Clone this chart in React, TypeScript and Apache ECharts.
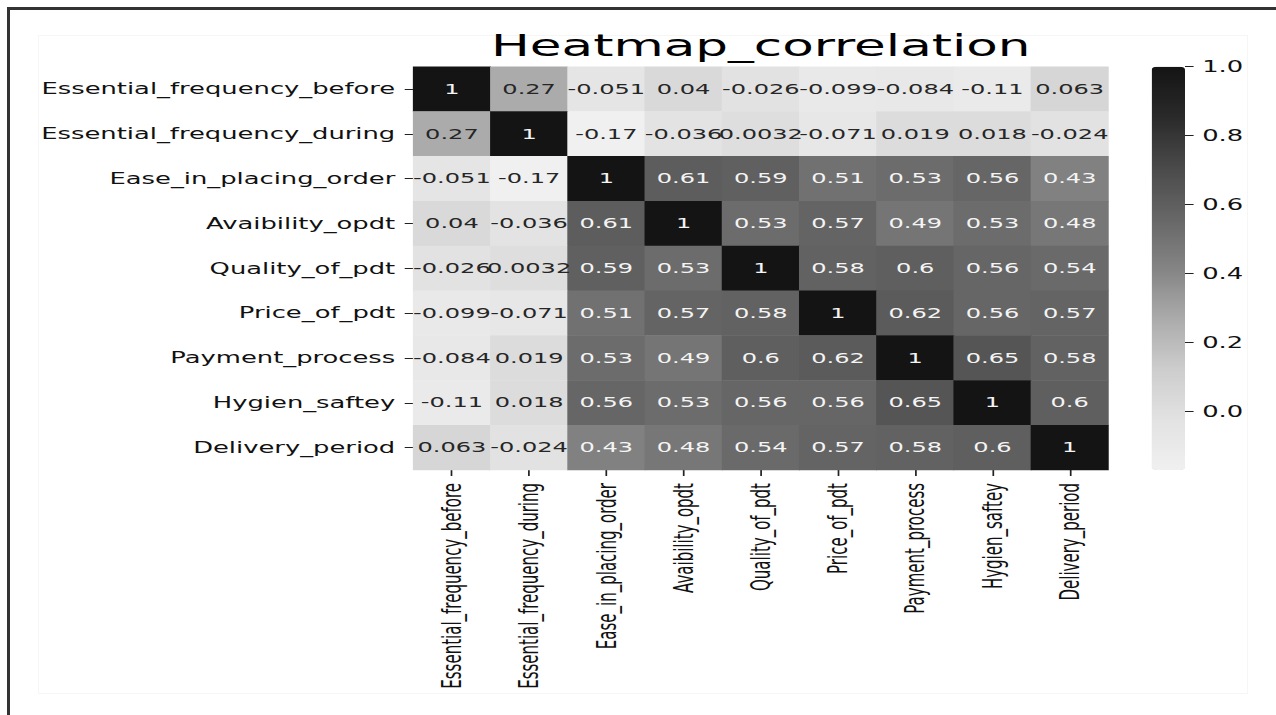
import React, { useEffect, useRef } from "react";
import * as echarts from "echarts";

const categories = [
  "Essential_frequency_before",
  "Essential_frequency_during",
  "Ease_in_placing_order",
  "Avaibility_opdt",
  "Quality_of_pdt",
  "Price_of_pdt",
  "Payment_process",
  "Hygien_saftey",
  "Delivery_period",
];

const rowBefore = [1, 0.27, -0.051, 0.04, -0.026, -0.099, -0.084, -0.11, 0.063];
const rowDuring = [0.27, 1, -0.17, -0.036, 0.0032, -0.071, 0.019, 0.018, -0.024];
const rowEase = [-0.051, -0.17, 1, 0.61, 0.59, 0.51, 0.53, 0.56, 0.43];
const rowAvail = [0.04, -0.036, 0.61, 1, 0.53, 0.57, 0.49, 0.53, 0.48];
const rowQuality = [-0.026, 0.0032, 0.59, 0.53, 1, 0.58, 0.6, 0.56, 0.54];
const rowPrice = [-0.099, -0.071, 0.51, 0.57, 0.58, 1, 0.62, 0.56, 0.57];
const rowPayment = [-0.084, 0.019, 0.53, 0.49, 0.6, 0.62, 1, 0.65, 0.58];
const rowHygien = [-0.11, 0.018, 0.56, 0.53, 0.56, 0.56, 0.65, 1, 0.6];
const rowDelivery = [0.063, -0.024, 0.43, 0.48, 0.54, 0.57, 0.58, 0.6, 1];

const matrix = [
  rowBefore,
  rowDuring,
  rowEase,
  rowAvail,
  rowQuality,
  rowPrice,
  rowPayment,
  rowHygien,
  rowDelivery,
];

const colorbarTicks = [0, 0.2, 0.4, 0.6, 0.8, 1.0];
const colorMin = -0.17;
const colorMax = 1;

const greyStops = [
  "#f0f0f0",
  "#e2e2e2",
  "#cdcdcd",
  "#ababab",
  "#848484",
  "#666666",
  "#4a4a4a",
  "#2a2a2a",
  "#141414",
];

const S = 1.72;
const FONT = "DejaVu Sans";

export default function App() {
  const ref = useRef<HTMLDivElement>(null);

  useEffect(() => {
    if (!ref.current) return;
    const chart = echarts.init(ref.current, undefined, { renderer: "svg" });

    const data: any[] = [];
    matrix.forEach((row, yi) => {
      row.forEach((v, xi) => {
        data.push({
          value: [xi, yi, v],
          label: { color: v > 0.35 ? "#f4f4f4" : "#262626" },
        });
      });
    });

    const gridLeft = 413.3 / S;
    const gridRight = 1108.3 / S;
    const cbLeft = 1151.7 / S;
    const cbRight = 1185 / S;
    const top = 66.7;
    const height = 403.3;

    chart.setOption({
      animation: false,
      backgroundColor: "transparent",
      textStyle: { fontFamily: FONT },
      title: {
        text: "Heatmap_correlation",
        left: (gridLeft + gridRight) / 2,
        top: 31,
        padding: 0,
        textAlign: "center",
        textStyle: {
          fontFamily: FONT,
          fontSize: 30,
          fontWeight: "normal",
          color: "#000000",
        },
      },
      grid: [
        { left: gridLeft, top, width: gridRight - gridLeft, height },
        { left: cbLeft, top, width: cbRight - cbLeft, height },
      ],
      xAxis: [
        {
          type: "category",
          gridIndex: 0,
          data: categories,
          position: "bottom",
          axisLine: { show: false },
          axisTick: {
            show: true,
            alignWithLabel: true,
            length: 6,
            lineStyle: { color: "#222222", width: 1 },
          },
          axisLabel: {
            rotate: 90,
            interval: 0,
            margin: 13,
            fontSize: 15,
            fontFamily: FONT,
            color: "#111111",
          },
          splitLine: { show: false },
        },
        {
          type: "category",
          gridIndex: 1,
          data: [""],
          show: false,
        },
      ],
      yAxis: [
        {
          type: "category",
          gridIndex: 0,
          data: categories,
          inverse: true,
          axisLine: { show: false },
          axisTick: {
            show: true,
            alignWithLabel: true,
            length: 5,
            lineStyle: { color: "#222222", width: 1 },
          },
          axisLabel: {
            interval: 0,
            margin: 10.5,
            fontSize: 15,
            fontFamily: FONT,
            color: "#111111",
          },
          splitLine: { show: false },
        },
        {
          type: "value",
          gridIndex: 1,
          min: colorMin,
          max: colorMax,
          position: "right",
          axisLine: { show: false },
          splitLine: { show: false },
          axisTick: {
            show: true,
            length: 5,
            customValues: colorbarTicks,
            lineStyle: { color: "#222222", width: 1 },
          },
          axisLabel: {
            customValues: colorbarTicks,
            formatter: (v: number) => v.toFixed(1),
            margin: 10,
            fontSize: 15,
            fontFamily: FONT,
            color: "#111111",
          },
        },
      ],
      visualMap: {
        type: "continuous",
        min: colorMin,
        max: colorMax,
        seriesIndex: 0,
        dimension: 2,
        show: true,
        calculable: false,
        hoverLink: false,
        orient: "vertical",
        left: cbLeft,
        top,
        itemWidth: cbRight - cbLeft,
        itemHeight: height,
        padding: 0,
        inRange: { color: greyStops },
      },
      series: [
        {
          type: "heatmap",
          xAxisIndex: 0,
          yAxisIndex: 0,
          data,
          itemStyle: { borderWidth: 0 },
          label: {
            show: true,
            fontSize: 14,
            fontFamily: FONT,
            formatter: (p: any) => String(p.value[2]),
          },
          emphasis: { disabled: true },
        },
      ],
    });

    return () => chart.dispose();
  }, []);

  return (
    <div
      style={{
        position: "fixed",
        left: 0,
        top: 0,
        width: 1276,
        height: 715,
        background: "#ffffff",
        overflow: "hidden",
      }}
    >
      <div
        style={{
          position: "absolute",
          left: 38,
          top: 35,
          width: 1210,
          height: 659,
          border: "1px solid #f6f6f6",
          boxSizing: "border-box",
          pointerEvents: "none",
        }}
      />
      <div
        ref={ref}
        style={{
          position: "absolute",
          left: 0,
          top: 0,
          width: 1276 / S,
          height: 715,
          transform: `scaleX(${S})`,
          transformOrigin: "0 0",
        }}
      />
      <div
        style={{
          position: "absolute",
          left: 7,
          top: 7,
          width: 1290,
          height: 730,
          borderTop: "3px solid #333333",
          borderLeft: "3px solid #333333",
          boxSizing: "border-box",
          pointerEvents: "none",
        }}
      />
    </div>
  );
}
